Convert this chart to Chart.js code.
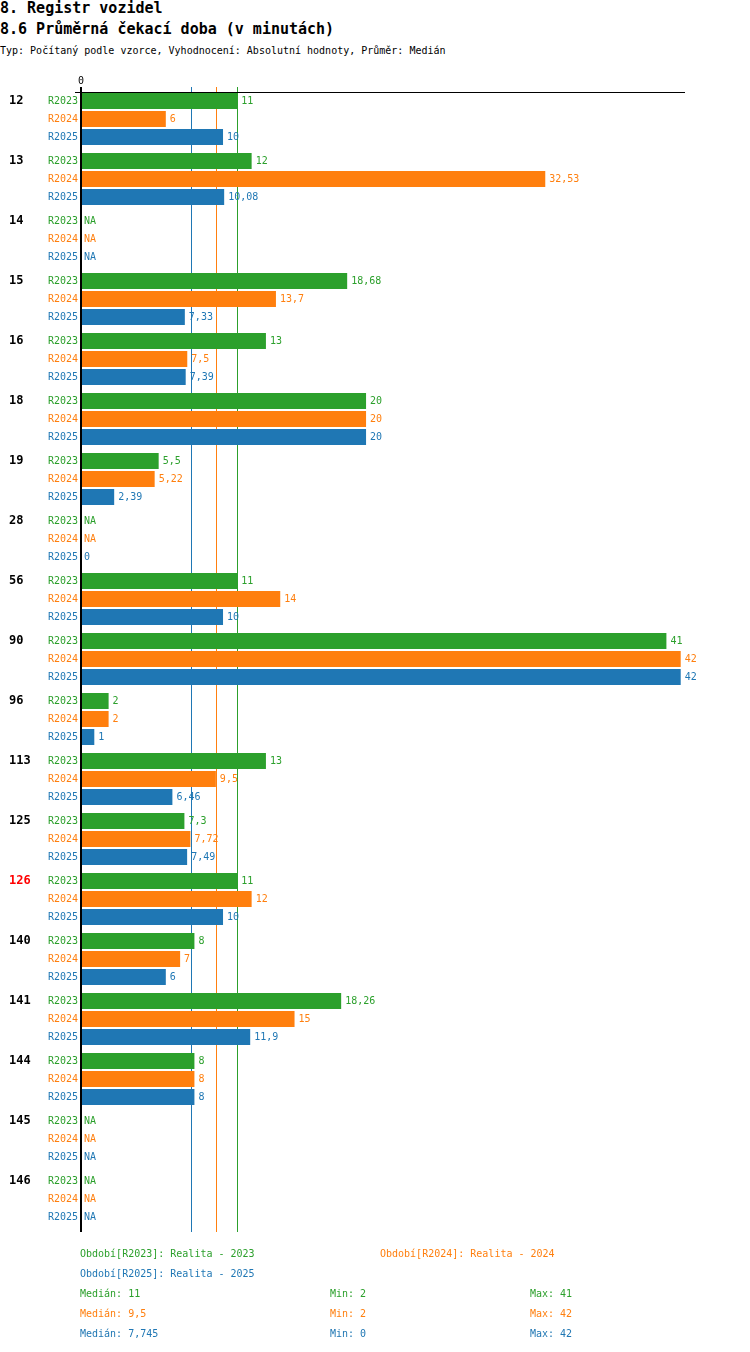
<!DOCTYPE html>
<html>
<head>
<meta charset="utf-8">
<title>8.6 Průměrná čekací doba</title>
<script src="https://cdn.jsdelivr.net/npm/chart.js@4/dist/chart.umd.min.js"></script>
<style>
  body { margin: 0; background: #fff; overflow: hidden; }
  .txt { position: absolute; white-space: pre; line-height: 1; font-family: 'DejaVu Sans Mono', monospace; color: #000; }
  .h { font-size: 15px; font-weight: bold; }
  .s { font-size: 10px; }
  #chart { position: absolute; left: 0; top: 0; }
</style>
</head>
<body>
<div class="txt h" style="left:0;top:1px">8. Registr vozidel</div>
<div class="txt h" style="left:0;top:22px">8.6 Průměrná čekací doba (v minutách)</div>
<div class="txt s" style="left:0;top:46px">Typ: Počítaný podle vzorce, Vyhodnocení: Absolutní hodnoty, Průměr: Medián</div>
<canvas id="chart" width="750" height="1352"></canvas>
<div id="legend"></div>

<script>
// Data
const categories = ['12', '13', '14', '15', '16', '18', '19', '28', '56', '90', '96', '113', '125', '126', '140', '141', '144', '145', '146'];
const highlighted = ['126'];
const seriesNames = ['R2023', 'R2024', 'R2025'];
const seriesDescriptions = ['Realita - 2023', 'Realita - 2024', 'Realita - 2025'];
const seriesColors = ['#2ca02c', '#ff7f0e', '#1f77b4'];

const r2023 = [11, 12, null, 18.68, 13, 20, 5.5, null, 11, 41, 2, 13, 7.3, 11, 8, 18.26, 8, null, null];
const r2024 = [6, 32.53, null, 13.7, 7.5, 20, 5.22, null, 14, 42, 2, 9.5, 7.72, 12, 7, 15, 8, null, null];
const r2025 = [10, 10.08, null, 7.33, 7.39, 20, 2.39, 0, 10, 42, 1, 6.46, 7.49, 10, 6, 11.9, 8, null, null];
const seriesValues = [r2023, r2024, r2025];

const axisMax = 42.3;

function fmt(v) {
  return String(Math.round(v * 1000) / 1000).replace('.', ',');
}

function median(arr) {
  const s = arr.filter(v => v !== null).sort((a, b) => a - b);
  const m = Math.floor(s.length / 2);
  return s.length % 2 ? s[m] : (s[m - 1] + s[m]) / 2;
}

const medians = seriesValues.map(median);
const mins = seriesValues.map(a => Math.min(...a.filter(v => v !== null)));
const maxs = seriesValues.map(a => Math.max(...a.filter(v => v !== null)));

// Labels, median lines and axis lines
const decorPlugin = {
  id: 'decor',
  beforeDatasetsDraw(chart) {
    const ctx = chart.ctx;
    const x = chart.scales.x;
    const area = chart.chartArea;
    ctx.save();
    for (let d = 0; d < medians.length; d++) {
      const px = Math.round(x.getPixelForValue(medians[d]));
      ctx.fillStyle = seriesColors[d];
      ctx.fillRect(px, area.top - 2, 1, area.bottom - area.top + 5);
    }
    ctx.restore();
  },
  afterDatasetsDraw(chart) {
    const ctx = chart.ctx;
    const x = chart.scales.x;
    const y = chart.scales.y;
    const area = chart.chartArea;
    const x0 = x.getPixelForValue(0);
    const catW = y.getPixelForValue(1) - y.getPixelForValue(0);
    const slot = catW * 0.9 / seriesNames.length;

    ctx.save();
    ctx.fillStyle = '#000';
    // top line
    ctx.fillRect(x0 - 5, area.top + 3, area.right - x0 + 5, 1);
    // zero axis
    ctx.fillRect(x0, area.top - 2, 2, area.bottom - area.top + 5);

    ctx.textBaseline = 'middle';
    ctx.font = "10px 'DejaVu Sans Mono'";
    ctx.textAlign = 'center';
    ctx.fillText('0', x0 + 1, area.top - 8);

    categories.forEach((cat, i) => {
      const cy = y.getPixelForValue(i);
      ctx.font = "bold 12px 'DejaVu Sans Mono'";
      ctx.textAlign = 'left';
      ctx.fillStyle = highlighted.includes(cat) ? '#ff0000' : '#000';
      ctx.fillText(cat, 9, cy - slot);
      ctx.font = "10px 'DejaVu Sans Mono'";
      seriesNames.forEach((name, d) => {
        const by = cy + (d - 1) * slot;
        ctx.fillStyle = seriesColors[d];
        ctx.textAlign = 'right';
        ctx.fillText(name, x0 - 2, by);
        ctx.textAlign = 'left';
        const v = seriesValues[d][i];
        const label = v === null ? 'NA' : fmt(v);
        const vx = x.getPixelForValue(v === null ? 0 : v);
        ctx.fillText(label, vx + 4, by);
      });
    });
    ctx.restore();
  }
};

new Chart(document.getElementById('chart'), {
  type: 'bar',
  data: {
    labels: categories,
    datasets: seriesNames.map((name, d) => ({
      label: name,
      data: seriesValues[d],
      backgroundColor: seriesColors[d],
      borderWidth: 0,
      categoryPercentage: 0.9,
      barPercentage: 16 / 18
    }))
  },
  options: {
    indexAxis: 'y',
    responsive: false,
    animation: false,
    layout: {
      padding: { left: 80, right: 65, top: 89, bottom: 123 }
    },
    scales: {
      x: { display: false, min: 0, max: axisMax },
      y: { display: false }
    },
    plugins: {
      legend: { display: false },
      tooltip: { enabled: false }
    }
  },
  plugins: [decorPlugin]
});

// Legend and summary below the chart
const legend = document.getElementById('legend');
function addText(text, left, top, color) {
  const el = document.createElement('div');
  el.className = 'txt s';
  el.style.left = left + 'px';
  el.style.top = top + 'px';
  el.style.color = color;
  el.textContent = text;
  legend.appendChild(el);
}
const periodPos = [[80, 1249], [380, 1249], [80, 1269]];
seriesNames.forEach((name, d) => {
  addText('Období[' + name + ']: ' + seriesDescriptions[d], periodPos[d][0], periodPos[d][1], seriesColors[d]);
  const top = 1289 + d * 20;
  addText('Medián: ' + fmt(medians[d]), 80, top, seriesColors[d]);
  addText('Min: ' + fmt(mins[d]), 330, top, seriesColors[d]);
  addText('Max: ' + fmt(maxs[d]), 530, top, seriesColors[d]);
});
</script>
</body>
</html>
